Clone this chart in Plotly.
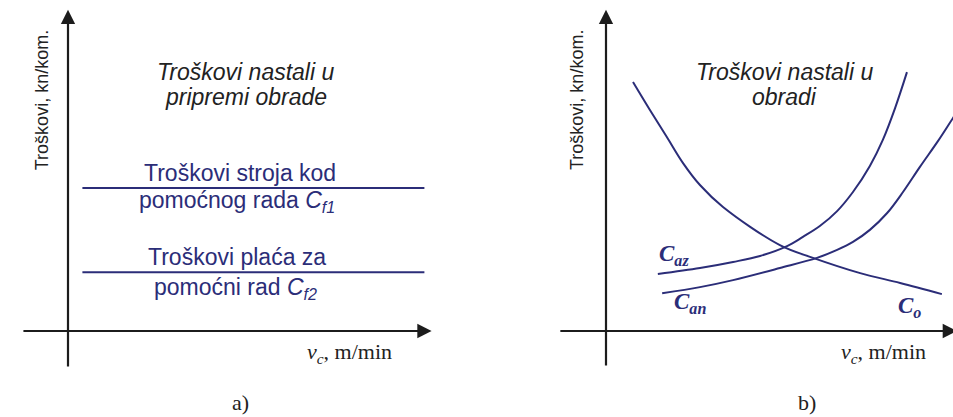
import plotly.graph_objects as go

# a) troskovi u pripremi obrade - horizontalne linije
fixed_x = [0.4, 9.9]
c_f1 = [4.5, 4.5]
c_f2 = [1.85, 1.85]

# b) troskovi nastali u obradi
co_x = [0.75, 1.22, 1.69, 2.14, 2.61, 3.25, 4.83, 5.75, 7.06, 8.17, 9.33]
co_y = [7.83, 6.95, 6.10, 5.28, 4.59, 3.90, 2.70, 2.30, 1.82, 1.51, 1.16]

caz_x = [1.44, 2.61, 3.53, 4.28, 5.03, 5.47, 5.94, 6.42, 6.86, 7.33, 7.69, 8.03, 8.36]
caz_y = [1.79, 1.98, 2.17, 2.36, 2.67, 2.96, 3.30, 3.77, 4.37, 5.19, 6.01, 7.01, 8.14]

can_x = [1.56, 2.61, 3.53, 4.83, 5.86, 6.42, 6.86, 7.33, 7.81, 8.25, 8.72, 9.22, 9.64, 9.97]
can_y = [1.19, 1.38, 1.60, 1.98, 2.30, 2.55, 2.80, 3.18, 3.71, 4.37, 5.16, 5.97, 6.70, 7.26]

line_col = "#2b2d78"
axis_col = "#1c1c1c"
sans = "Liberation Sans, Arial"
serif = "Liberation Serif, Times New Roman"

fig = go.Figure()

fig.add_trace(go.Scatter(x=fixed_x, y=c_f1, mode="lines", line=dict(color=line_col, width=2),
                         xaxis="x", yaxis="y", showlegend=False))
fig.add_trace(go.Scatter(x=fixed_x, y=c_f2, mode="lines", line=dict(color=line_col, width=2),
                         xaxis="x", yaxis="y", showlegend=False))

for xs, ys in [(co_x, co_y), (caz_x, caz_y), (can_x, can_y)]:
    fig.add_trace(go.Scatter(x=xs, y=ys, mode="lines", line=dict(color=line_col, width=2, shape="spline"),
                             xaxis="x2", yaxis="y2", showlegend=False))

ann = []


def arrow(xr, yr, x, y, ax, ay):
    ann.append(dict(xref=xr, yref=yr, axref=xr, ayref=yr, x=x, y=y, ax=ax, ay=ay, text="",
                    showarrow=True, arrowhead=2, arrowsize=1.3, arrowwidth=2.2, arrowcolor=axis_col))


def label(xr, yr, x, y, text, font, size, color="#1a1a1a", angle=0):
    ann.append(dict(xref=xr, yref=yr, x=x, y=y, text=text, showarrow=False, textangle=angle,
                    font=dict(family=font, size=size, color=color)))


# osi
arrow("x", "y", 0, 10.1, 0, -1.16)
arrow("x", "y", 10.1, 0, -1.28, 0)
arrow("x2", "y2", 0, 10.1, 0, -1.13)
arrow("x2", "y2", 9.75, 0, -1.31, 0)

txt = "#222222"
fs = 23
label("x", "y", 4.94, 8.14, "<i>Troškovi nastali u</i>", sans, fs, txt)
label("x", "y", 4.94, 7.36, "<i>pripremi obrade</i>", sans, fs, txt)
label("x", "y", 4.78, 4.97, "Troškovi stroja kod", sans, fs, line_col)
label("x", "y", 4.69, 4.06, "pomoćnog rada <i>C</i><sub><i>f1</i></sub>", sans, fs, line_col)
label("x", "y", 4.69, 2.33, "Troškovi plaća za", sans, fs, line_col)
label("x", "y", 4.64, 1.35, "pomoćni rad <i>C</i><sub><i>f2</i></sub>", sans, fs, line_col)
label("x", "y", -0.72, 7.26, "Troškovi, kn/kom.", sans, 18, txt, -90)
label("x", "y", 7.83, -0.69, "<i>v</i><sub><i>c</i></sub>, m/min", serif, 22, txt)
label("x", "y", 4.78, -2.26, "a)", serif, 22, txt)

label("x2", "y2", 4.97, 8.14, "<i>Troškovi nastali u</i>", sans, fs, txt)
label("x2", "y2", 4.97, 7.36, "<i>obradi</i>", sans, fs, txt)
label("x2", "y2", -0.81, 7.26, "Troškovi, kn/kom.", sans, 18, txt, -90)
label("x2", "y2", 1.89, 2.39, "<b><i>C</i></b><sub><b><i>az</i></b></sub>", serif, 23, line_col)
label("x2", "y2", 2.33, 0.88, "<b><i>C</i></b><sub><b><i>an</i></b></sub>", serif, 23, line_col)
label("x2", "y2", 8.42, 0.75, "<b><i>C</i></b><sub><b><i>o</i></b></sub>", serif, 23, line_col)
label("x2", "y2", 7.72, -0.69, "<i>v</i><sub><i>c</i></sub>, m/min", serif, 22, txt)
label("x2", "y2", 5.58, -2.26, "b)", serif, 22, txt)

hidden = dict(visible=False, showgrid=False, zeroline=False, fixedrange=True)
yr = [-86 / 31.8, 331 / 31.8]

fig.update_layout(
    width=953, height=417,
    margin=dict(l=0, r=0, t=0, b=0),
    paper_bgcolor="white", plot_bgcolor="white",
    xaxis=dict(domain=[0, 476 / 953], range=[-68 / 36, 408 / 36], **hidden),
    yaxis=dict(domain=[0, 1], range=yr, anchor="x", **hidden),
    xaxis2=dict(domain=[477 / 953, 1], range=[-129 / 36, 347 / 36], anchor="y2", **hidden),
    yaxis2=dict(domain=[0, 1], range=yr, anchor="x2", **hidden),
    annotations=ann,
)

fig.write_html("out.html", config={"displayModeBar": False},
               post_script="document.body.style.margin='0px';")
